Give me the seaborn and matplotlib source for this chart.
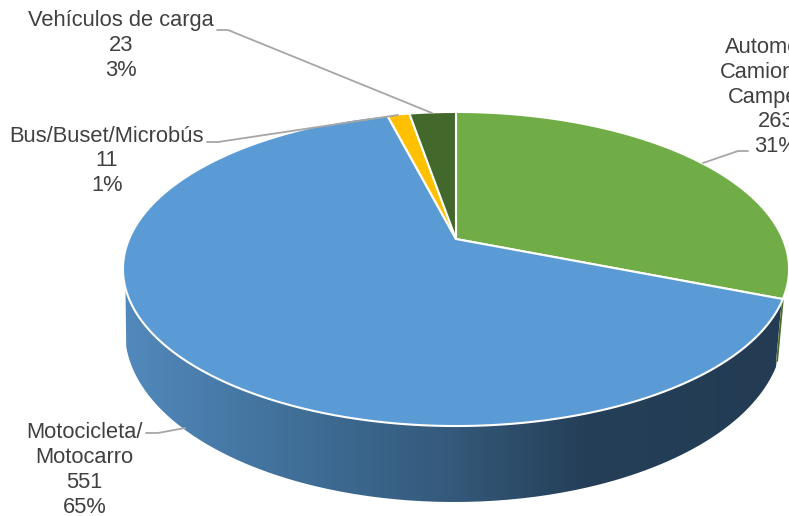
import numpy as np
import matplotlib
matplotlib.use("Agg")
import matplotlib.pyplot as plt
from matplotlib.path import Path
from matplotlib.patches import PathPatch
from matplotlib.colors import LinearSegmentedColormap
import seaborn as sns

categories = ["Automóvil/\nCamioneta/\nCampero/", "Motocicleta/\nMotocarro",
              "Bus/Buset/Microbús", "Vehículos de carga"]
values = [263, 551, 11, 23]
colors = ["#70AD47", "#5B9BD5", "#FFC000", "#43682B"]
wall_stops = [(0.0, "#5289BC"), (0.27, "#3F6E97"), (0.5, "#34597A"), (0.70, "#253F58"), (1.0, "#233C54")]
label_xy = [(776, 97), (84.5, 470), (107, 161), (121, 45.5)]
leaders = [[(748, 151), (738, 151), (703, 163)],
           [(146, 433), (158, 433), (185, 428)],
           [(207, 142), (218, 142), (398, 115)],
           [(217, 30), (228, 30), (432, 113)]]

sns.set_theme(style="white")
plt.rcParams["font.family"] = ["Liberation Sans", "DejaVu Sans"]

APEX = (456.0, 239.0)
K, A, C = 0.191, 151.3, 326.9


def top(theta):
    """Clockwise angle from 12 o'clock (radians) to a point on the tilted pie's rim."""
    u, v = np.sin(theta), np.cos(theta)
    w = 1 + K * v
    return APEX[0] + C * u / w, APEX[1] - A * v / w


def bottom(phi):
    return 454 + 329 * np.sin(phi), 332 - 170 * np.cos(phi)


fig = plt.figure(figsize=(7.89, 5.16), dpi=100)
ax = fig.add_axes([0, 0, 1, 1])
ax.set_xlim(0, 789)
ax.set_ylim(516, 0)
ax.axis("off")

total = sum(values)
edges = np.concatenate([[0], np.cumsum(values)]) / total * 2 * np.pi

# side wall of the large slice, shaded left to right
t_wall = np.linspace(edges[1], np.radians(252.2), 200)
p_wall = np.radians(np.linspace(265, 101.8, 200))
wx = np.concatenate([top(t_wall)[0], bottom(p_wall)[0]])
wy = np.concatenate([top(t_wall)[1], bottom(p_wall)[1]])
clip = PathPatch(Path(np.column_stack([wx, wy])), fc="none", ec="none", transform=ax.transData)
ax.add_patch(clip)
cmap = LinearSegmentedColormap.from_list("wall", wall_stops, N=256)
im = ax.imshow(np.linspace(0, 1, 400)[None, :], extent=(123, 783, 510, 280),
               aspect="auto", cmap=cmap, zorder=1)
im.set_clip_path(clip)
ax.set_xlim(0, 789)
ax.set_ylim(516, 0)

# thin visible wall of the first slice
px, py = top(edges[1])
qx, qy = bottom(np.radians(101.8))
ax.plot([px + 0.5, qx + 1.5], [py, qy - 5], color="#FFFFFF", lw=2.2, zorder=2, solid_capstyle="butt")
ax.plot([px, qx + 1], [py, qy - 5], color="#4A6B2C", lw=1.3, zorder=2.1, solid_capstyle="butt")

# top face
for a0, a1, col in zip(edges[:-1], edges[1:], colors):
    t = np.linspace(a0, a1, 300)
    x, y = top(t)
    ax.fill(np.r_[APEX[0], x], np.r_[APEX[1], y], facecolor=col,
            edgecolor="#FFFFFF", lw=1.5, zorder=3, joinstyle="round")

# leader lines
for pts in leaders:
    xs, ys = zip(*pts)
    ax.plot(xs, ys, color="#A6A6A6", lw=1.3, zorder=4)

# labels
for name, val, (lx, ly) in zip(categories, values, label_xy):
    ax.text(lx, ly, f"{name}\n{val}\n{val / total:.0%}", ha="center", va="center",
            fontsize=15.75, color="#404040", linespacing=1.23, zorder=5)

fig.savefig("out.png", dpi=100)
